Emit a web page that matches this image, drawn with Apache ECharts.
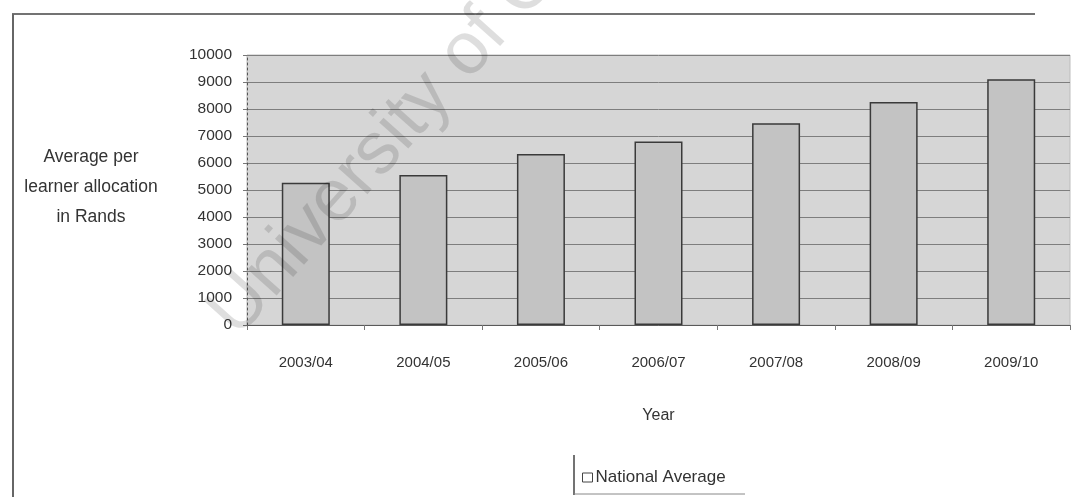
<!DOCTYPE html>
<html>
<head>
<meta charset="utf-8">
<style>
  html, body { margin: 0; padding: 0; background: #ffffff; }
  #chart { width: 1075px; height: 497px; }
</style>
<script src="https://cdn.jsdelivr.net/npm/echarts@6/dist/echarts.min.js"></script>
</head>
<body>
<div id="chart"></div>
<script>
// Financial years on the category axis
const years = ['2003/04', '2004/05', '2005/06', '2006/07', '2007/08', '2008/09', '2009/10'];
// Average per learner allocation (Rands), national average
const nationalAverage = [5270, 5560, 6330, 6800, 7470, 8260, 9100];
// Value axis ticks
const yTicks = [0, 1000, 2000, 3000, 4000, 5000, 6000, 7000, 8000, 9000, 10000];

const FONT = '"Liberation Sans", Arial, sans-serif';
const TEXT = '#333333';

const chart = echarts.init(document.getElementById('chart'), null, { renderer: 'canvas' });

chart.setOption({
  backgroundColor: '#ffffff',
  animation: false,
  textStyle: { fontFamily: FONT },
  grid: {
    left: 247, right: 5, top: 55, bottom: 172,
    show: true,
    backgroundColor: '#d6d6d6',
    borderColor: '#bdbdbd',
    borderWidth: 1
  },
  legend: {
    data: ['National Average'],
    left: 577, top: 464,
    icon: 'rect',
    itemWidth: 10, itemHeight: 9,
    itemGap: 4,
    itemStyle: { color: '#ffffff', borderColor: '#444444', borderWidth: 1 },
    textStyle: { fontFamily: FONT, fontSize: 17, color: TEXT, padding: [0, 0, 0, -2] }
  },
  xAxis: {
    type: 'category',
    data: years,
    name: 'Year',
    nameLocation: 'middle',
    nameGap: 83,
    nameTextStyle: { fontFamily: FONT, fontSize: 16, color: TEXT },
    axisLine: { lineStyle: { color: '#5a5a5a', width: 1 } },
    axisTick: { show: true, length: 5, lineStyle: { color: '#777777' } },
    axisLabel: { fontFamily: FONT, fontSize: 15, color: TEXT, margin: 30 },
    splitLine: { show: false }
  },
  yAxis: {
    type: 'value',
    min: yTicks[0],
    max: yTicks[yTicks.length - 1],
    interval: yTicks[1] - yTicks[0],
    axisLine: { show: true, lineStyle: { color: '#555555', width: 1, type: [2, 3] } },
    axisTick: { show: true, length: 4, lineStyle: { color: '#777777' } },
    axisLabel: {
      fontFamily: FONT, fontSize: 15.5, color: TEXT, margin: 15,
      formatter: (v) => String(v)
    },
    splitLine: { show: true, lineStyle: { color: '#7e7e7e', width: 1 } }
  },
  series: [{
    name: 'National Average',
    type: 'bar',
    data: nationalAverage,
    barWidth: 48,
    itemStyle: { color: '#c3c3c3', borderColor: '#3a3a3a', borderWidth: 1.5 }
  }],
  graphic: [
    // outer chart frame (top and left edges)
    { type: 'line', shape: { x1: 12, y1: 14, x2: 1035, y2: 14 }, style: { stroke: '#444444', lineWidth: 1.5 }, silent: true },
    { type: 'line', shape: { x1: 13, y1: 14, x2: 13, y2: 497 }, style: { stroke: '#666666', lineWidth: 2 }, silent: true },
    // legend box edges
    { type: 'line', shape: { x1: 574, y1: 455, x2: 574, y2: 495 }, style: { stroke: '#444444', lineWidth: 1.5 }, silent: true },
    { type: 'line', shape: { x1: 574, y1: 494, x2: 745, y2: 494 }, style: { stroke: '#888888', lineWidth: 1 }, silent: true },
    // value axis title
    {
      type: 'text', x: 91, y: 187,
      style: {
        text: 'Average per\nlearner allocation\nin Rands',
        fontFamily: FONT, fontSize: 17.5, fill: TEXT,
        align: 'center', verticalAlign: 'middle', lineHeight: 30
      },
      silent: true
    },
    // repository stamp across the chart
    {
      type: 'text', x: 250, y: 350, rotation: 0.84, z: 100,
      style: {
        text: 'University of Cape Town',
        fontFamily: FONT, fontSize: 74,
        fill: 'rgba(0,0,0,0.13)',
        align: 'left', verticalAlign: 'bottom'
      },
      silent: true
    }
  ]
});
</script>
</body>
</html>
